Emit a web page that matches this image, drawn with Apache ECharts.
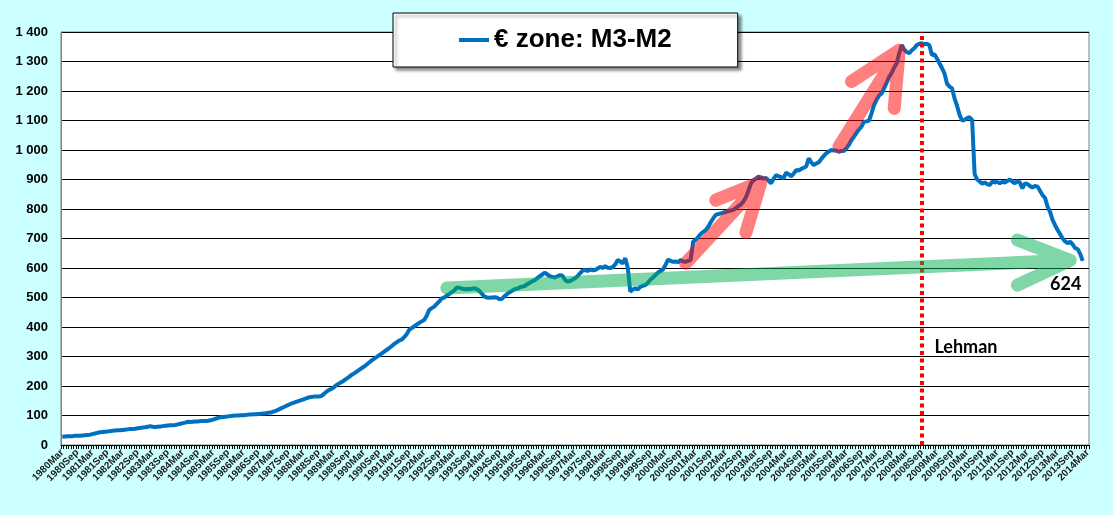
<!DOCTYPE html>
<html>
<head>
<meta charset="utf-8">
<script src="https://cdn.jsdelivr.net/npm/echarts@6/dist/echarts.min.js"></script>
<style>
  html, body { margin: 0; padding: 0; background: #ccffff; }
  #chart { width: 1113px; height: 515px; }
</style>
</head>
<body>
<div id="chart"></div>
<script>
// Category labels: monthly from 1980Mar to 2014Mar
const monthNames = ['Jan', 'Feb', 'Mar', 'Apr', 'May', 'Jun', 'Jul', 'Aug', 'Sep', 'Oct', 'Nov', 'Dec'];
const categories = [];
for (let y = 1980; y <= 2014; y++) {
    for (let m = 0; m < 12; m++) {
        if (y === 1980 && m < 2) continue;
        if (y === 2014 && m > 2) break;
        categories.push(y + monthNames[m]);
    }
}

// € zone M3-M2 (1980Mar .. 2014Jan)
const m3m2 = [
    28, 29, 30, 30, 30, 31, 31, 31, 32, 33,                                   // 1980 Mar-Dec
    34, 35, 37, 39, 41, 43, 44, 45, 46, 47, 48, 49,                            // 1981
    50, 50, 51, 52, 53, 54, 54, 55, 57, 58, 59, 60,                            // 1982
    62, 64, 62, 61, 62, 63, 64, 65, 66, 67, 67, 68,                            // 1983
    70, 72, 74, 76, 79, 78, 79, 80, 80, 81, 81, 81,                            // 1984
    82, 84, 86, 89, 92, 94, 95, 96, 97, 98, 99, 100,                           // 1985
    100, 101, 101, 102, 103, 103, 104, 104, 105, 106, 107, 108,                // 1986
    109, 110, 113, 116, 120, 124, 128, 132, 136, 140, 143, 146,                // 1987
    149, 152, 155, 158, 161, 163, 164, 164, 164, 166, 172, 180,                // 1988
    186, 190, 195, 203, 208, 213, 218, 224, 230, 237, 242, 248,                // 1989
    254, 260, 265, 272, 279, 286, 292, 298, 304, 310, 316, 322,                // 1990
    328, 335, 342, 348, 354, 357, 365, 375, 390, 396, 402, 408,                // 1991
    414, 419, 424, 438, 458, 464, 469, 478, 487, 497, 500, 507,                // 1992
    512, 518, 524, 534, 533, 530, 528, 529, 528, 530, 531, 528,                // 1993
    522, 512, 503, 500, 499, 500, 501, 499, 494, 496, 505, 512,                // 1994
    518, 523, 528, 530, 534, 537, 539, 545, 550, 555, 559, 566,                // 1995
    572, 578, 584, 578, 572, 570, 568, 572, 576, 574, 560, 554,                // 1996
    556, 560, 565, 572, 582, 591, 593, 590, 595, 592, 593, 598,                // 1997
    604, 600, 606, 601, 600, 603, 612, 627, 622, 616, 633, 600,                // 1998
    520, 527, 531, 528, 536, 540, 542, 550, 560, 568, 576, 584,                // 1999
    590, 595, 610, 629, 624, 621, 622, 620, 627, 622, 621, 624,                // 2000
    627, 689, 695, 705, 715, 722, 729, 740, 755, 768, 780, 783,                // 2001
    785, 788, 790, 793, 795, 797, 803, 810, 815, 825, 840, 862,                // 2002
    887, 897, 903, 910, 906, 903, 905, 897, 887, 902, 915, 911,                // 2003
    908, 905, 923, 918, 911, 920, 932, 930, 936, 940, 944, 972,                // 2004
    958, 949, 955, 958, 970, 980, 989, 995, 1000, 998, 998, 994,               // 2005
    997, 997, 1006, 1018, 1034, 1045, 1058, 1070, 1079, 1096, 1097, 1100,      // 2006
    1125, 1153, 1170, 1185, 1192, 1210, 1228, 1248, 1262, 1280, 1294, 1328,    // 2007
    1356, 1340, 1332, 1328, 1338, 1345, 1356, 1360, 1362, 1358, 1360, 1355,    // 2008
    1322, 1325, 1310, 1294, 1278, 1260, 1225, 1215, 1209, 1175, 1150, 1119,    // 2009
    1100, 1102, 1108, 1111, 1102, 918, 900, 893, 886, 890, 884, 881,           // 2010
    893, 890, 892, 887, 892, 890, 895, 900, 893, 887, 895, 890,                // 2011
    870, 887, 885, 878, 873, 878, 876, 862, 847, 838, 808, 790,                // 2012
    763, 745, 729, 715, 700, 690, 684, 689, 680, 667, 664, 648,                // 2013
    624                                                                        // 2014 Jan
];

// Annotation arrows in data units [category, value]: tail, tip, head arm, tip, head arm
const greenArrow = [['1992Dec', 532], ['2013Aug', 626], ['2011Nov', 695], ['2013Aug', 626], ['2011Nov', 542]];
const redArrow1 = [['2000Nov', 616], ['2003May', 892], ['2001Nov', 830], ['2003May', 892], ['2002Nov', 720]];
const redArrow2 = [['2005Dec', 1011], ['2007Dec', 1338], ['2006May', 1232], ['2007Dec', 1338], ['2007Oct', 1141]];

const lehmanMonth = '2008Sep';
const seriesName = '€ zone: M3-M2';

document.addEventListener('DOMContentLoaded', function() {
    const chart = echarts.init(document.getElementById('chart'));

    function arrowSeries(data, color) {
        return {
            type: 'line',
            data: data,
            symbol: 'none',
            silent: true,
            z: 5,
            lineStyle: { color: color, width: 13, cap: 'round', join: 'round' }
        };
    }

    const option = {
        animation: false,
        backgroundColor: '#ccffff',
        textStyle: { fontFamily: 'Liberation Sans, Arial, sans-serif' },
        grid: {
            left: 61, right: 24, top: 32, bottom: 70,
            show: true,
            backgroundColor: '#ffffff',
            borderColor: '#808080',
            borderWidth: 1
        },
        legend: {
            data: [seriesName],
            left: 393,
            top: 13,
            padding: [14, 66, 14, 66],
            backgroundColor: '#ffffff',
            borderColor: '#000000',
            borderWidth: 1,
            shadowColor: 'rgba(0,0,0,0.45)',
            shadowBlur: 3,
            shadowOffsetX: 3,
            shadowOffsetY: 3,
            icon: 'rect',
            itemWidth: 30,
            itemHeight: 4,
            textStyle: { fontSize: 26, fontWeight: 'bold', color: '#000' }
        },
        xAxis: {
            type: 'category',
            data: categories,
            boundaryGap: true,
            axisLine: { lineStyle: { color: '#000', width: 1 } },
            axisTick: { show: true, interval: 0, length: 4, lineStyle: { color: '#000' } },
            axisLabel: {
                interval: 5,
                rotate: 45,
                fontSize: 10,
                fontWeight: 'bold',
                color: '#1a1a1a',
                margin: 6
            },
            splitLine: { show: false }
        },
        yAxis: {
            type: 'value',
            min: 0,
            max: 1400,
            interval: 100,
            axisLine: { show: true, lineStyle: { color: '#808080' } },
            axisTick: { show: false },
            axisLabel: {
                fontSize: 13,
                fontWeight: 'bold',
                color: '#000',
                margin: 13,
                formatter: function(v) {
                    return v >= 1000 ? Math.floor(v / 1000) + ' ' + String(v % 1000).padStart(3, '0') : String(v);
                }
            },
            splitLine: { lineStyle: { color: '#000', width: 1 } }
        },
        series: [
            {
                name: seriesName,
                type: 'line',
                data: m3m2,
                symbol: 'none',
                z: 3,
                itemStyle: { color: '#0070c0' },
                lineStyle: { color: '#0070c0', width: 4 },
                markLine: {
                    silent: true,
                    symbol: 'none',
                    label: { show: false },
                    lineStyle: { color: '#ff0000', type: [4, 3.5], width: 4 },
                    data: [{ xAxis: lehmanMonth }]
                },
                markPoint: {
                    silent: true,
                    symbol: 'circle',
                    symbolSize: 0,
                    label: {
                        show: true,
                        position: 'right',
                        distance: 0,
                        fontFamily: 'Lato, sans-serif',
                        fontSize: 18,
                        fontWeight: 'bold',
                        color: '#000'
                    },
                    data: [
                        { coord: ['2009Feb', 332], label: { formatter: 'Lehman' } },
                        { coord: ['2012Dec', 546], label: { formatter: '624' } }
                    ]
                }
            },
            arrowSeries(greenArrow, 'rgba(0,176,80,0.5)'),
            arrowSeries(redArrow1, 'rgba(255,0,0,0.5)'),
            arrowSeries(redArrow2, 'rgba(255,0,0,0.5)')
        ]
    };

    chart.setOption(option);
});
</script>
</body>
</html>
